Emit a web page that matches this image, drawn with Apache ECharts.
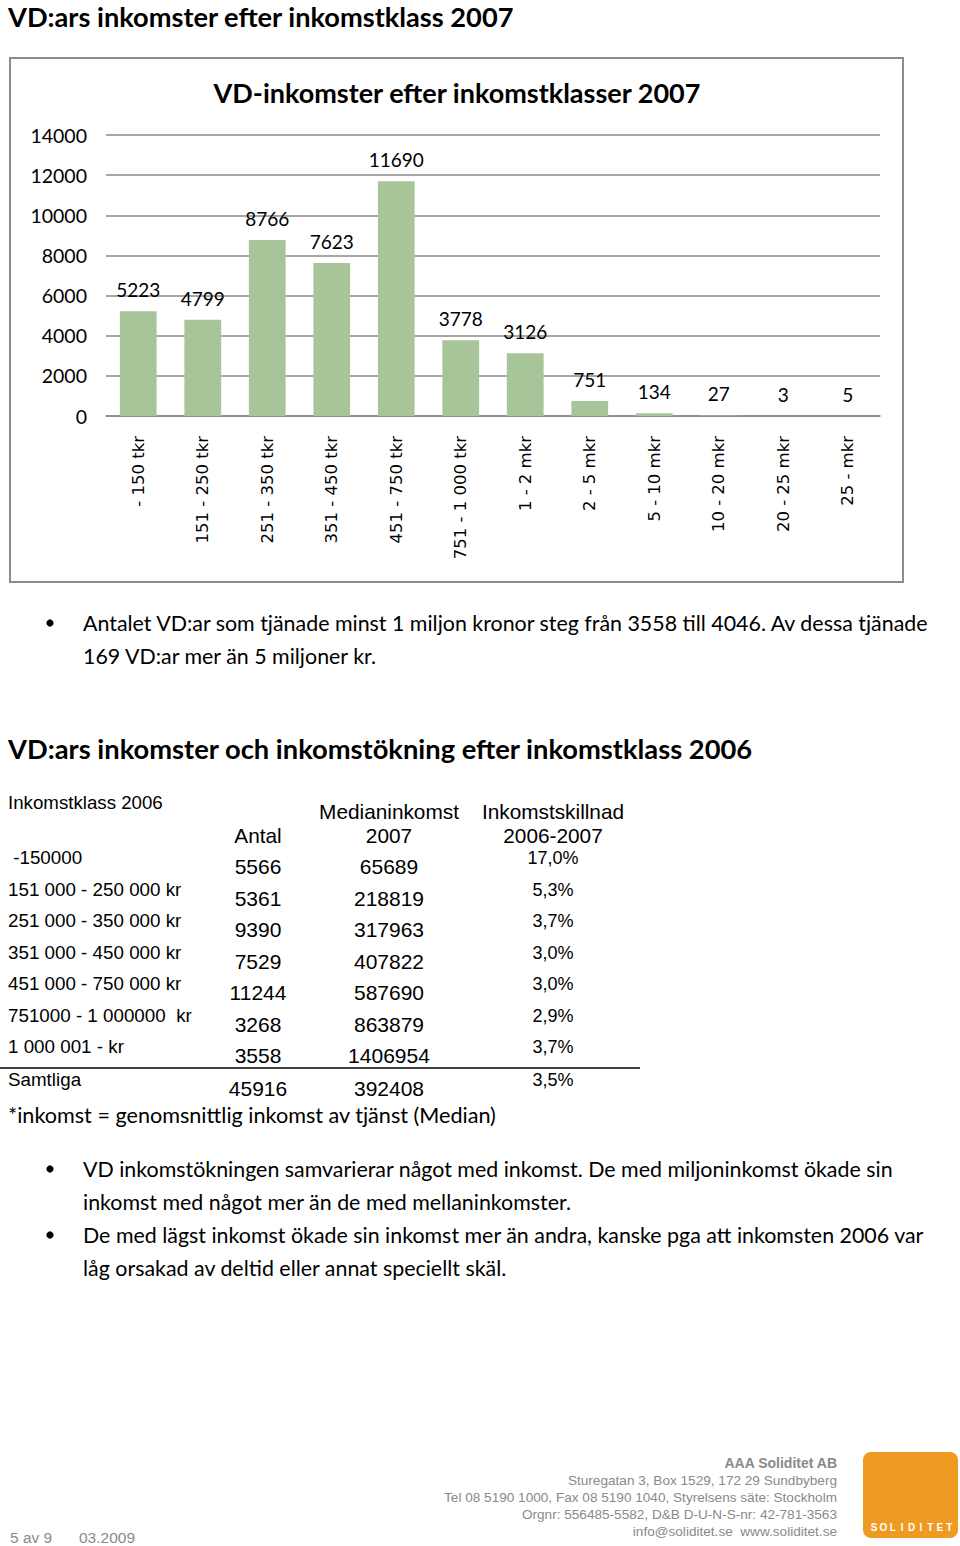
<!DOCTYPE html>
<html><head><meta charset="utf-8">
<script src="https://cdn.jsdelivr.net/npm/echarts@6/dist/echarts.min.js"></script>
<style>html,body{margin:0;padding:0;background:#fff}#c{width:960px;height:1546px}</style>
</head><body><div id="c"></div>
<script>
const categories = ['- 150 tkr','151 - 250 tkr','251 - 350 tkr','351 - 450 tkr','451 - 750 tkr','751 - 1 000 tkr','1 - 2 mkr','2 - 5 mkr','5 - 10 mkr','10 - 20 mkr','20 - 25 mkr','25 - mkr'];
const counts = [5223,4799,8766,7623,11690,3778,3126,751,134,27,3,5];
const yMax = 14000, yStep = 2000;

const tableClasses = [' -150000','151 000 - 250 000 kr','251 000 - 350 000 kr','351 000 - 450 000 kr','451 000 - 750 000 kr','751000 - 1 000000  kr','1 000 001 - kr','Samtliga'];
const tableAntal = [5566,5361,9390,7529,11244,3268,3558,45916];
const tableMedian = [65689,218819,317963,407822,587690,863879,1406954,392408];
const tableDiff = ['17,0%','5,3%','3,7%','3,0%','3,0%','2,9%','3,7%','3,5%'];

const bullet1 = ['Antalet VD:ar som tjänade minst 1 miljon kronor steg från 3558 till 4046. Av dessa tjänade','169 VD:ar mer än 5 miljoner kr.'];
const bullet2 = ['VD inkomstökningen samvarierar något med inkomst. De med miljoninkomst ökade sin','inkomst med något mer än de med mellaninkomster.'];
const bullet3 = ['De med lägst inkomst ökade sin inkomst mer än andra, kanske pga att inkomsten 2006 var','låg orsakad av deltid eller annat speciellt skäl.'];
const footerLines = ['Sturegatan 3, Box 1529, 172 29 Sundbyberg','Tel 08 5190 1000, Fax 08 5190 1040, Styrelsens säte: Stockholm','Orgnr: 556485-5582, D&B D-U-N-S-nr: 42-781-3563','info@soliditet.se  www.soliditet.se'];

const CAL = 'Lato, "Open Sans", sans-serif';
const ARI = '"Liberation Sans", Arial, sans-serif';
function T(text, x, y, font, opt) {
  opt = opt || {};
  return {type:'text', silent:true, style:{text:text, x:x, y:y, font:font, fill:opt.fill||'#000',
    textAlign:opt.align||'left', textVerticalAlign:'middle', verticalAlign:'middle'}};
}
const g = [];
g.push(T('VD:ars inkomster efter inkomstklass 2007', 8, 16, 'bold 27.2px '+CAL));
g.push({type:'rect', silent:true, shape:{x:10,y:58,width:893,height:524}, style:{fill:'none', stroke:'#8c8c8c', lineWidth:2}});
g.push(T('VD-inkomster efter inkomstklasser 2007', 457, 92, 'bold 27px '+CAL, {align:'center'}));
function bullets(lines, y0) {
  g.push({type:'circle', silent:true, shape:{cx:50, cy:y0, r:3.6}, style:{fill:'#000'}});
  lines.forEach((l,i)=>g.push(T(l, 83, y0 + i*32.5, '21.4px '+CAL)));
}
bullets(bullet1, 623);
g.push(T('VD:ars inkomster och inkomstökning efter inkomstklass 2006', 8, 748, 'bold 27.3px '+CAL));
// table headers
g.push(T('Inkomstklass 2006', 8, 802, '18.7px '+ARI));
g.push(T('Medianinkomst', 389, 811, '20.8px '+ARI, {align:'center'}));
g.push(T('Inkomstskillnad', 553, 811, '20.8px '+ARI, {align:'center'}));
g.push(T('Antal', 258, 835, '20.8px '+ARI, {align:'center'}));
g.push(T('2007', 389, 835, '20.8px '+ARI, {align:'center'}));
g.push(T('2006-2007', 553, 835, '20.8px '+ARI, {align:'center'}));
const rowY = [857, 889, 920, 952, 983, 1015, 1046, 1079];
tableClasses.forEach((c,i)=>{
  const y = rowY[i];
  g.push(T(c, 8, y, '18.8px '+ARI));
  g.push(T(String(tableAntal[i]), 258, y+9, '21px '+ARI, {align:'center'}));
  g.push(T(String(tableMedian[i]), 389, y+9, '21px '+ARI, {align:'center'}));
  g.push(T(tableDiff[i], 553, y+1, '18px '+ARI, {align:'center'}));
});
g.push({type:'line', silent:true, shape:{x1:0,y1:1068,x2:640,y2:1068}, style:{stroke:'#000', lineWidth:1.5}});
g.push(T('*inkomst = genomsnittlig inkomst av tjänst (Median)', 8, 1115, '21.6px '+CAL));
bullets(bullet2, 1169);
bullets(bullet3, 1235);
// footer
g.push(T('AAA Soliditet AB', 837, 1463, 'bold 14px '+ARI, {align:'right', fill:'#8a8a8a'}));
footerLines.forEach((l,i)=>g.push(T(l, 837, 1480 + i*17.3, '13.6px '+ARI, {align:'right', fill:'#8a8a8a'})));
g.push(T('5 av 9', 10, 1537, '15.5px '+ARI, {fill:'#8a8a8a'}));
g.push(T('03.2009', 79, 1537, '15.5px '+ARI, {fill:'#8a8a8a'}));
g.push({type:'rect', silent:true, shape:{x:863,y:1452,width:95,height:86,r:8}, style:{fill:'#ef9a22'}});
'SOLIDITET'.split('').forEach((ch,i)=>g.push(T(ch, 874 + i*9.4, 1527, 'bold 10px '+ARI, {align:'center', fill:'#fff'})));

const chart = echarts.init(document.getElementById('c'), null, {renderer:'svg'});
chart.setOption({
  animation:false,
  backgroundColor:'#fff',
  grid:{left:106, right:80, top:135, bottom:1130, containLabel:false},
  xAxis:{type:'category', data:categories,
    axisLine:{show:true, lineStyle:{color:'#8a8a8a', width:1.5}}, axisTick:{show:false},
    axisLabel:{rotate:90, margin:20, interval:0, fontFamily:'"DejaVu Sans", sans-serif', fontSize:16.5, color:'#000'}},
  yAxis:{type:'value', min:0, max:yMax, interval:yStep,
    axisLine:{show:false}, axisTick:{show:false},
    splitLine:{lineStyle:{color:'#8a8a8a', width:1.5}},
    axisLabel:{margin:19, fontFamily:CAL, fontSize:19.5, color:'#000', formatter:function(v){return String(v);}}},
  series:[{type:'bar', data:counts, barWidth:'57%', itemStyle:{color:'#a8c59a'},
    label:{show:true, position:'top', distance:12, fontFamily:CAL, fontSize:19, color:'#000'}}],
  graphic:g
});
</script></body></html>
